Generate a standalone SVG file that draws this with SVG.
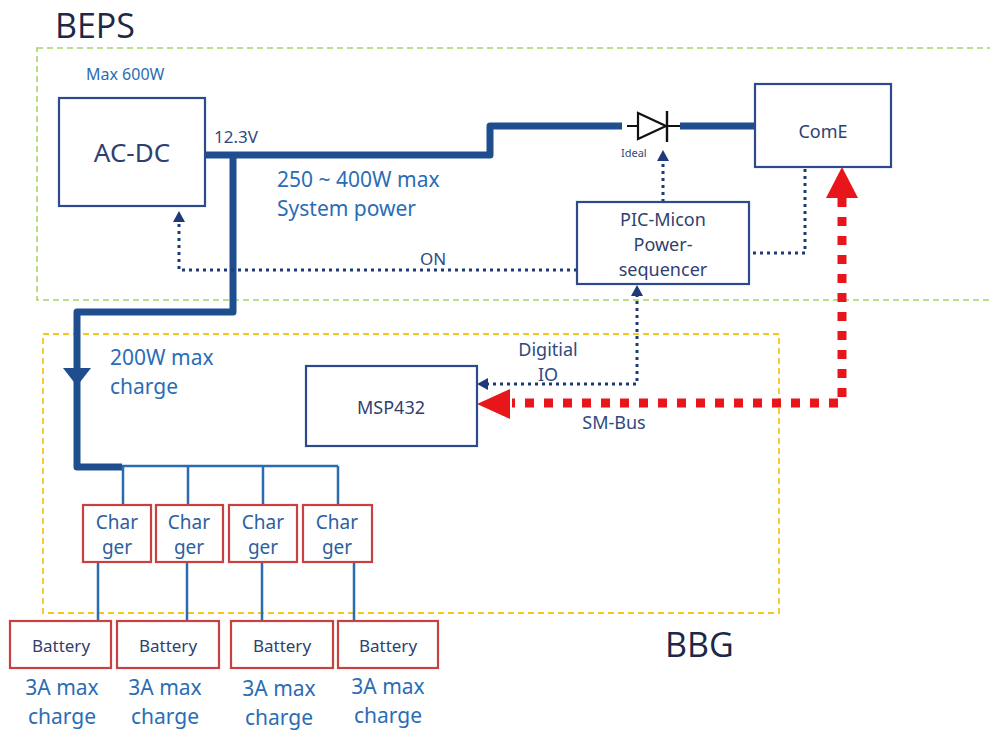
<svg xmlns="http://www.w3.org/2000/svg" width="990" height="734" viewBox="0 0 990 734">
<defs>
<style>
.title{font-family:"Open Sans","Liberation Sans",sans-serif;font-size:34px;fill:#1c2846}
.node{fill:#fff;stroke:#2d4a8c;stroke-width:2.2}
.rnode{fill:#fff;stroke:#c8403f;stroke-width:2.2}
.nt{font-family:"Noto Sans","Liberation Sans",sans-serif;fill:#2f3f6f;text-anchor:middle}
.bt{font-family:"Noto Sans","Liberation Sans",sans-serif;fill:#2c5fa0;text-anchor:middle}
.lbl{font-family:"Noto Sans","Liberation Sans",sans-serif;fill:#2a6db5}
.sl{font-family:"Noto Sans","Liberation Sans",sans-serif;fill:#2f4a80}
.thick{fill:none;stroke:#1f4e8f;stroke-width:7;stroke-linejoin:round}
.thin{fill:none;stroke:#2b6cb0;stroke-width:2.5}
.dot{fill:none;stroke:#1f3a78;stroke-width:3;stroke-dasharray:3 4}
.red{fill:none;stroke:#e8161b;stroke-width:9;stroke-dasharray:9 10}
.dah{fill:#1f3a78}
</style>
</defs>
<rect width="990" height="734" fill="#fff"/>

<g id="BEPS">
<rect x="37" y="48" width="980" height="252" fill="none" stroke="#a8d46a" stroke-width="1.6" stroke-dasharray="6 4"/>
<text class="title" x="55" y="38">BEPS</text>
</g>
<g id="BBG">
<rect x="43" y="334" width="736" height="279" fill="none" stroke="#f2c81e" stroke-width="1.8" stroke-dasharray="6 4"/>
<text class="title" x="665" y="657">BBG</text>
</g>

<g id="connectors">
<path class="thick" d="M205,155 H490 V126 H622"/>
<path class="thick" d="M755,126 H680"/>
<path class="thick" d="M233,155 V312 H77 V467 H122"/>
<polygon points="63,368 91,368 77,386" fill="#1f4e8f"/>
<path class="thin" d="M122,466 H338 M123,466 V505 M188,466 V505 M263,466 V505 M338,466 V505"/>
<path class="thin" d="M98,562 V621 M187,562 V621 M262,562 V621 M354,562 V621"/>
<g id="diode">
<path d="M627,126 H638 M667,126 H680" stroke="#111" stroke-width="2"/>
<polygon points="638,113 638,139 666,126" fill="#fff" stroke="#111" stroke-width="2.2"/>
<path d="M667,111 V142" stroke="#111" stroke-width="2.4"/>
</g>
<path class="dot" d="M663,202 V160"/>
<polygon class="dah" points="663,150 657,161 669,161"/>
<path class="dot" d="M577,270 H179 V220"/>
<polygon class="dah" points="179,211 173,222 185,222"/>
<path class="dot" d="M805,169 V253 H749"/>
<path class="dot" d="M486,384 H637 V295"/>
<polygon class="dah" points="637,285 631,296 643,296"/>
<polygon class="dah" points="477,384 488,378 488,390"/>
<path class="red" d="M842,198 V403 H512"/>
<polygon points="842,167 826,198 858,198" fill="#e8161b"/>
<polygon points="477,404 510,389 510,419" fill="#e8161b"/>
</g>

<g id="labels">
<text class="lbl" x="86" y="80" font-size="16">Max 600W</text>
<text class="sl" x="214" y="143" font-size="17">12.3V</text>
<text class="lbl" x="277" y="187" font-size="21">250 ~ 400W max</text>
<text class="lbl" x="277" y="216" font-size="21">System power</text>
<text class="sl" x="420" y="265" font-size="17">ON</text>
<text class="sl" x="621" y="157" font-size="11">Ideal</text>
<text class="lbl" x="110" y="365" font-size="21">200W max</text>
<text class="lbl" x="110" y="394" font-size="21">charge</text>
<text class="sl" x="548" y="356" font-size="18" text-anchor="middle">Digitial</text>
<text class="sl" x="548" y="381" font-size="18" text-anchor="middle">IO</text>
<text class="sl" x="614" y="429" font-size="18" text-anchor="middle">SM-Bus</text>
<g class="lbl" font-size="21">
<text x="62" y="695" text-anchor="middle">3A max</text><text x="62" y="724" text-anchor="middle">charge</text>
<text x="165" y="695" text-anchor="middle">3A max</text><text x="165" y="724" text-anchor="middle">charge</text>
<text x="279" y="696" text-anchor="middle">3A max</text><text x="279" y="725" text-anchor="middle">charge</text>
<text x="388" y="694" text-anchor="middle">3A max</text><text x="388" y="723" text-anchor="middle">charge</text>
</g>
</g>

<g id="acdc"><rect class="node" x="59" y="98" width="146" height="108"/><text class="nt" x="132" y="162" font-size="26">AC-DC</text></g>
<g id="come"><rect class="node" x="755" y="84" width="136" height="83"/><text class="nt" x="823" y="138" font-size="18">ComE</text></g>
<g id="pic"><rect class="node" x="577" y="202" width="172" height="82"/>
<text class="nt" x="663" y="226" font-size="18">PIC-Micon</text>
<text class="nt" x="663" y="251" font-size="18">Power-</text>
<text class="nt" x="663" y="276" font-size="18">sequencer</text></g>
<g id="msp432"><rect class="node" x="306" y="366" width="171" height="80"/><text class="nt" x="391" y="414" font-size="18">MSP432</text></g>

<g id="charger1"><rect class="rnode" x="83" y="505" width="68" height="57"/><text class="bt" x="117" y="529" font-size="19">Char</text><text class="bt" x="117" y="554" font-size="19">ger</text></g>
<g id="charger2"><rect class="rnode" x="156" y="505" width="67" height="57"/><text class="bt" x="189" y="529" font-size="19">Char</text><text class="bt" x="189" y="554" font-size="19">ger</text></g>
<g id="charger3"><rect class="rnode" x="229" y="505" width="68" height="57"/><text class="bt" x="263" y="529" font-size="19">Char</text><text class="bt" x="263" y="554" font-size="19">ger</text></g>
<g id="charger4"><rect class="rnode" x="303" y="505" width="69" height="57"/><text class="bt" x="337" y="529" font-size="19">Char</text><text class="bt" x="337" y="554" font-size="19">ger</text></g>

<g id="battery1"><rect class="rnode" x="10" y="621" width="101" height="47"/><text class="nt" x="61" y="652" font-size="17">Battery</text></g>
<g id="battery2"><rect class="rnode" x="117" y="621" width="102" height="47"/><text class="nt" x="168" y="652" font-size="17">Battery</text></g>
<g id="battery3"><rect class="rnode" x="231" y="621" width="102" height="47"/><text class="nt" x="282" y="652" font-size="17">Battery</text></g>
<g id="battery4"><rect class="rnode" x="338" y="621" width="100" height="47"/><text class="nt" x="388" y="652" font-size="17">Battery</text></g>
</svg>
